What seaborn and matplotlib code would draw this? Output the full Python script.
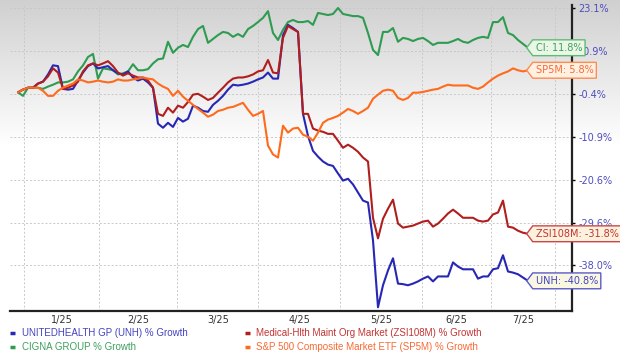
import numpy as np
import pandas as pd
import matplotlib
matplotlib.use('Agg')
import matplotlib.pyplot as plt
from matplotlib.path import Path
from matplotlib.lines import Line2D
from matplotlib.colors import LinearSegmentedColormap
import seaborn as sns

# % growth, one reading every few trading days from late Dec-24 to mid Jul-25
unh = [0.0, 0.7, 1.2, 1.2, 2.3, 2.8, 4.7, 7.1, 6.9, 0.9,
       0.7, 0.9, 3.1, 5.2, 6.9, 7.6, 6.3, 6.6, 6.9, 5.8,
       5.0, 4.7, 5.5, 3.9, 3.1, 3.6, 2.6, 1.2, -7.7, -8.7,
       -7.5, -8.5, -6.3, -7.2, -6.5, -3.3, -3.8, -4.6, -4.8, -3.1,
       -2.1, -0.9, 0.7, 2.0, 1.8, 2.0, 2.3, 2.8, 3.4, 3.9,
       5.2, 3.6, 3.6, 15.4, 18.3, 17.4, 16.3, -5.3, -10.7, -14.1,
       -15.4, -16.5, -17.2, -17.5, -19.2, -20.8, -20.4, -21.6, -23.3, -25.0,
       -25.4, -33.1, -45.6, -41.6, -38.9, -36.6, -41.3, -41.4, -41.6, -41.3,
       -40.9, -40.4, -40.0, -40.9, -40.0, -40.0, -40.0, -37.4, -38.2, -38.7,
       -38.7, -38.7, -40.4, -40.0, -40.0, -38.7, -38.5, -36.0, -39.1, -39.3,
       -39.6, -40.2, -40.8]
zsi = [0.0, 0.7, 1.2, 1.2, 2.3, 2.8, 4.2, 6.3, 5.2, 0.9,
       1.2, 1.8, 2.8, 5.5, 7.1, 7.6, 7.1, 7.6, 8.2, 6.9,
       5.2, 4.4, 5.0, 4.4, 3.9, 3.9, 3.1, 1.2, -5.3, -5.8,
       -3.8, -5.0, -3.3, -3.8, -2.4, -0.6, -0.4, -1.1, -1.9, -1.4,
       -0.1, 1.2, 2.6, 3.6, 3.9, 3.9, 4.2, 4.7, 5.5, 5.8,
       8.5, 5.2, 5.0, 14.6, 18.0, 17.1, 16.3, -5.3, -5.3, -8.9,
       -9.4, -9.7, -10.2, -10.2, -11.8, -13.4, -12.7, -13.4, -14.3, -15.6,
       -16.5, -28.6, -32.7, -28.8, -26.7, -24.8, -29.8, -30.6, -30.4, -30.2,
       -29.8, -29.4, -29.2, -30.4, -29.8, -28.8, -27.7, -26.9, -27.7, -28.6,
       -28.6, -28.6, -29.2, -29.4, -29.2, -27.9, -27.5, -25.0, -30.4, -30.6,
       -31.2, -31.6, -31.8]
ci = [0.0, -0.9, 1.2, 1.2, 1.2, 0.9, 1.5, 2.0, 2.6, 2.6,
      2.8, 3.4, 5.5, 7.1, 9.3, 10.1, 3.6, 6.3, 6.1, 5.8,
      4.7, 5.0, 5.5, 7.4, 5.8, 5.8, 6.1, 7.6, 8.7, 8.9,
      13.5, 10.4, 11.8, 12.6, 12.0, 14.9, 17.1, 18.0, 13.2, 14.3,
      15.4, 16.3, 16.0, 14.9, 15.7, 14.9, 17.1, 18.0, 19.1, 20.3,
      22.2, 16.0, 14.0, 16.9, 19.1, 19.7, 19.1, 19.1, 19.4, 18.3,
      21.7, 21.4, 21.1, 21.4, 23.1, 21.4, 21.1, 20.8, 20.8, 20.3,
      16.0, 11.2, 9.8, 16.3, 16.3, 17.4, 13.5, 14.6, 14.3, 13.7,
      14.3, 14.6, 13.7, 12.6, 13.2, 13.2, 13.2, 13.7, 14.3, 13.5,
      13.2, 14.0, 14.6, 14.9, 14.6, 19.1, 19.1, 20.5, 16.0, 15.4,
      14.0, 12.9, 11.8]
sp5m = [0.0, 0.7, 1.2, 1.2, 1.2, 0.4, -0.9, -0.9, 0.4, 1.2,
        1.8, 2.3, 3.4, 3.1, 2.6, 2.8, 3.1, 2.8, 2.6, 2.8,
        3.4, 3.1, 3.1, 3.4, 3.6, 3.9, 3.6, 3.4, 2.3, 1.5,
        0.9, -0.9, 0.4, -1.1, -2.1, -3.1, -4.1, -5.0, -6.0, -5.5,
        -4.6, -4.3, -3.8, -3.6, -3.1, -2.6, -4.3, -5.8, -5.3, -4.6,
        -12.9, -14.9, -15.6, -8.2, -9.9, -8.9, -8.7, -10.4, -10.9, -11.8,
        -9.9, -7.5, -6.7, -6.3, -5.8, -5.0, -4.1, -4.6, -5.3, -4.6,
        -3.8, -1.6, -0.6, 0.4, 0.7, 0.4, -1.4, -1.9, -1.4, -0.1,
        -0.1, 0.1, 0.4, 0.7, 0.9, 1.5, 2.0, 1.8, 1.8, 1.8,
        1.8, 1.2, 0.9, 1.5, 2.6, 3.6, 4.4, 5.0, 5.5, 6.3,
        5.8, 5.5, 5.8]

# month boundaries (in reading index) and labels
month_edges = [1.26, 16.14, 31.86, 48.06, 64.4, 80.74, 94.6, 107.4]
month_labels = ['1/25', '2/25', '3/25', '4/25', '5/25', '6/25', '7/25']

# right axis ticks; the growth axis is stretched so these sit evenly
y_ticks = [-38.0, -29.6, -20.6, -10.9, -0.4, 10.9, 23.1]
y_knots = [-53.0, -45.8] + y_ticks + [36.2, 50.0]

legend_names = {'UNH': 'UNITEDHEALTH GP (UNH) % Growth',
                'CI': 'CIGNA GROUP % Growth',
                'ZSI108M': 'Medical-Hlth Maint Org Market (ZSI108M) % Growth',
                'SP5M': 'S&P 500 Composite Market ETF (SP5M) % Growth'}
line_colors = {'UNH': '#2727b5', 'ZSI108M': '#b01e1e', 'CI': '#2e9c50', 'SP5M': '#ff6a1c'}
text_colors = {'UNH': '#4343c0', 'ZSI108M': '#c23434', 'CI': '#3f9f5e', 'SP5M': '#f76a34'}
tag_fill = {'UNH': '#f9f7e2', 'ZSI108M': '#fcf1dc', 'CI': '#eaf6e6', 'SP5M': '#fff0e2'}
tag_edge = {'UNH': '#5a5ac8', 'ZSI108M': '#c84848', 'CI': '#62bb74', 'SP5M': '#ff8c50'}

df = pd.DataFrame({'UNH': unh, 'ZSI108M': zsi, 'CI': ci, 'SP5M': sp5m})
long = df.reset_index(names='day').melt(id_vars='day', var_name='series', value_name='growth')

knot_pos = np.arange(len(y_knots)) - 2.0


def fwd(v):
    return np.interp(v, y_knots, knot_pos)


def inv(p):
    return np.interp(p, knot_pos, y_knots)


def tag_box(x0, y0, width, height, mutation_size):
    pad = 0.3 * mutation_size
    x0, y0 = x0 - pad, y0 - pad
    x1, y1 = x0 + width + 2 * pad, y0 + height + 2 * pad
    tip = x0 - 0.38 * (y1 - y0)
    verts = [(tip, (y0 + y1) / 2), (x0, y1), (x1, y1), (x1, y0), (x0, y0), (tip, (y0 + y1) / 2)]
    return Path(verts, [Path.MOVETO] + [Path.LINETO] * 4 + [Path.CLOSEPOLY])


sns.set_style('white')
plt.rcParams['font.family'] = ['DejaVu Sans']

fig = plt.figure(figsize=(6.2, 3.57), dpi=100)

# grey-to-white background wash
bg = fig.add_axes([0, 0, 1, 1], zorder=-1)
shade = np.clip(np.arange(357) / 145.0, 0, 1).reshape(-1, 1)
bg.imshow(shade, aspect='auto', extent=[0, 1, 0, 1],
          cmap=LinearSegmentedColormap.from_list('wash', ['#d0d0d0', '#ffffff']))
bg.axis('off')

ax = fig.add_axes([10 / 620, 46.5 / 357, 562 / 620, 305.5 / 357])
ax.set_facecolor('none')

sns.lineplot(data=long, x='day', y='growth', hue='series',
             hue_order=['CI', 'UNH', 'ZSI108M', 'SP5M'], palette=line_colors,
             linewidth=1.5, legend=False, ax=ax)

ax.set_yscale('function', functions=(fwd, inv))
ax.set_ylim(inv(-1.05), inv(6.07))
ax.set_xlim(-1.6, 110.8)

ax.yaxis.tick_right()
ax.set_yticks(y_ticks, [f'{t:.1f}%' for t in y_ticks])
ax.yaxis.set_minor_locator(matplotlib.ticker.NullLocator())
ax.tick_params(axis='y', length=2.5, width=1, color='black', labelcolor='#4d4dbf',
               labelsize=7, pad=2)

mids = [(a + b) / 2 for a, b in zip(month_edges[:-1], month_edges[1:])]
ax.set_xticks(month_edges, [''] * len(month_edges))
ax.set_xticks(mids, month_labels, minor=True)
ax.tick_params(axis='x', which='both', length=0, labelcolor='#333333', labelsize=7, pad=3.5)

ax.grid(True, which='major', color='#c8c8c8', linestyle=(0, (2, 2)), linewidth=0.7)
ax.set_xlabel('')
ax.set_ylabel('')

for side in ['left', 'top']:
    ax.spines[side].set_visible(False)
for side in ['right', 'bottom']:
    ax.spines[side].set_color('#222222')
    ax.spines[side].set_linewidth(1.6)

# end-of-line value tags
for key in ['CI', 'SP5M', 'ZSI108M', 'UNH']:
    last = df[key].iloc[-1]
    ax.annotate(f'{key}: {last:.1f}%', xy=(len(df) - 1, last), xytext=(5.5, 0),
                textcoords='offset points', ha='left', va='center', fontsize=7,
                color=text_colors[key], zorder=6, annotation_clip=False,
                bbox=dict(boxstyle=tag_box, fc=tag_fill[key], ec=tag_edge[key], lw=1))

order = ['UNH', 'CI', 'ZSI108M', 'SP5M']
handles = [Line2D([], [], color=line_colors[k], lw=2.5, solid_capstyle='butt') for k in order]
leg = fig.legend(handles, [legend_names[k] for k in order], ncol=2, loc='upper left',
                 bbox_to_anchor=(10 / 620, 1 - 328 / 357), frameon=False,
                 prop={'family': 'Liberation Sans', 'size': 7}, handlelength=0.5,
                 handletextpad=0.7, columnspacing=5.9, labelspacing=0.45,
                 borderpad=0, borderaxespad=0)
for txt, k in zip(leg.get_texts(), order):
    txt.set_color(text_colors[k])

fig.savefig('out.png', dpi=100)
